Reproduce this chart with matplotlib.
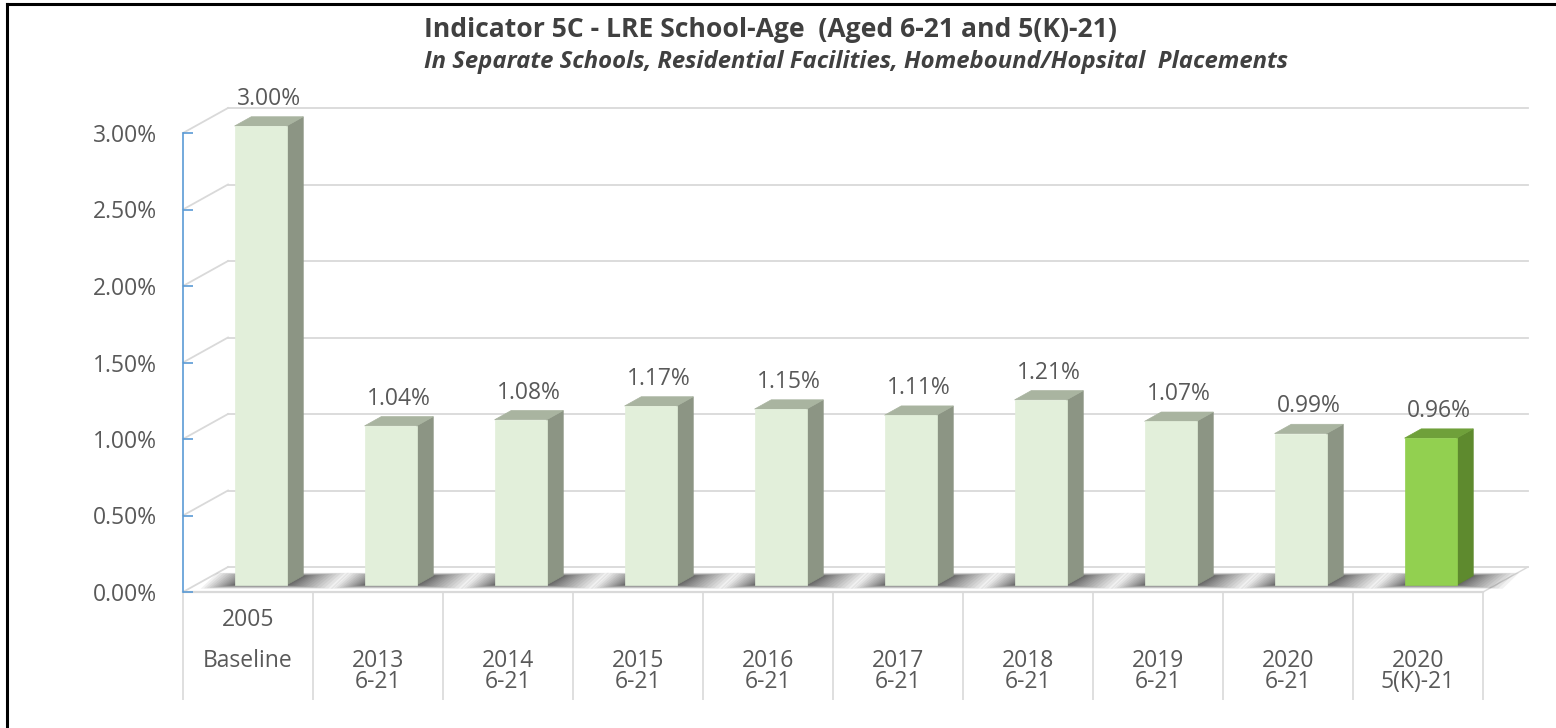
import matplotlib
matplotlib.use("Agg")
import matplotlib.pyplot as plt
from matplotlib.patches import Polygon
from matplotlib.lines import Line2D
from matplotlib.ticker import FuncFormatter, FixedLocator

# ---------------- data ----------------
categories_top = ["2005", "2013", "2014", "2015", "2016", "2017", "2018", "2019", "2020", "2020"]
categories_bottom = ["Baseline", "6-21", "6-21", "6-21", "6-21", "6-21", "6-21", "6-21", "6-21", "5(K)-21"]
values = [3.00, 1.04, 1.08, 1.17, 1.15, 1.11, 1.21, 1.07, 0.99, 0.96]
highlight = [False, False, False, False, False, False, False, False, False, True]
y_ticks = [0.0, 0.5, 1.0, 1.5, 2.0, 2.5, 3.0]
title = "Indicator 5C - LRE School-Age  (Aged 6-21 and 5(K)-21)"
subtitle = "In Separate Schools, Residential Facilities, Homebound/Hopsital  Placements"

# ---------------- style ----------------
plt.rcParams['font.family'] = ['Open Sans', 'DejaVu Sans']
TXT = "#595959"
GRID = "#D9D9D9"
AXIS_BLUE = "#5B9BD5"
FRONT, SIDE, TOP = "#E2EFDA", "#8C9584", "#A9B4A0"
HFRONT, HSIDE, HTOP = "#92D050", "#5E8A2E", "#6FA03A"
FS = 16.5

W_PX, H_PX = 1556, 728
fig = plt.figure(figsize=(W_PX / 100, H_PX / 100), dpi=100)
fig.patch.set_facecolor("white")

# axes = front plane of the 3-D box
ax = fig.add_axes([183 / W_PX, (H_PX - 592) / H_PX, 1300 / W_PX, 459 / H_PX])
n = len(values)
ax.set_xlim(-0.5, n - 0.5)
ax.set_ylim(0, y_ticks[-1])
ax.set_facecolor("none")

PX_X = 1300 / n            # pixels per category
PX_Y = 459 / y_ticks[-1]   # pixels per percent
DX = 45 / PX_X             # depth offset of back wall (data units)
DY = 25 / PX_Y
T0, T1 = 0.28, 0.65        # bar front / back depth fraction
BW = 52 / PX_X             # bar width

for s in ["top", "right", "bottom"]:
    ax.spines[s].set_visible(False)
ax.spines["left"].set_color(AXIS_BLUE)
ax.spines["left"].set_linewidth(1.2)
ax.spines["left"].set_zorder(6)

ax.yaxis.set_major_locator(FixedLocator(y_ticks))
ax.yaxis.set_major_formatter(FuncFormatter(lambda v, p: f"{v:.2f}%"))
ax.tick_params(axis="y", direction="in", length=7, width=1.2, color=AXIS_BLUE,
               labelsize=FS, labelcolor=TXT, pad=19)

# category separators as long x ticks
ax.xaxis.set_major_locator(FixedLocator([i - 0.5 for i in range(n + 1)]))
ax.tick_params(axis="x", direction="out", length=78, width=1.2, color=GRID,
               labelbottom=False)

# back wall grid and left wall diagonals
for v in y_ticks:
    ax.add_line(Line2D([-0.5 + DX, n - 0.5 + DX], [v + DY, v + DY], color=GRID,
                       lw=1.3, zorder=0, clip_on=False))
    ax.add_line(Line2D([-0.5, -0.5 + DX], [v, v + DY], color=GRID,
                       lw=1.3, zorder=0, clip_on=False))
# floor front edge and right edge
ax.add_line(Line2D([-0.5, n - 0.5], [0, 0], color=GRID, lw=1.6, zorder=0, clip_on=False))
ax.add_line(Line2D([n - 0.5, n - 0.5 + DX], [0, DY], color=GRID, lw=1.0, zorder=0, clip_on=False))

# bars
ddx, ddy = (T1 - T0) * DX, (T1 - T0) * DY
for i, (v, hl) in enumerate(zip(values, highlight)):
    x0 = i - BW / 2 + T0 * DX
    x1 = x0 + BW
    yb = T0 * DY
    yt = v + T0 * DY
    # soft floor shadow (stacked translucent layers)
    layers = 16
    for k in range(layers, 0, -1):
        f = (k / layers) ** 1.5
        xl = x0 - f * 34 / PX_X
        xr = x1 + ddx + f * 46 / PX_X
        yl = yb - 0.15 * f * DY
        yh = yb + ddy + 0.12 * f * DY
        ax.add_patch(Polygon([(xl, yl), (xr - ddx, yl), (xr, yh), (xl + ddx, yh)],
                             closed=True, facecolor="black", edgecolor="none",
                             alpha=0.055, zorder=1, clip_on=False))
    fc, sc, tc = (HFRONT, HSIDE, HTOP) if hl else (FRONT, SIDE, TOP)
    ax.add_patch(Polygon([(x1, yb), (x1 + ddx, yb + ddy), (x1 + ddx, yt + ddy), (x1, yt)],
                         closed=True, facecolor=sc, edgecolor=sc, lw=0.5, zorder=3, clip_on=False))
    ax.add_patch(Polygon([(x0, yt), (x1, yt), (x1 + ddx, yt + ddy), (x0 + ddx, yt + ddy)],
                         closed=True, facecolor=tc, edgecolor=tc, lw=0.5, zorder=3, clip_on=False))
    ax.add_patch(Polygon([(x0, yb), (x1, yb), (x1, yt), (x0, yt)],
                         closed=True, facecolor=fc, edgecolor=fc, lw=0.5, zorder=4, clip_on=False))
    # value label
    ax.annotate(f"{v:.2f}%", xy=((x0 + x1 + ddx) / 2, yt + ddy), xytext=(0, 18),
                textcoords="offset pixels", ha="center", va="center",
                fontsize=FS, color=TXT, annotation_clip=False)

# category labels (two lines each; the baseline label has a blank line between)
for i, (top, bot) in enumerate(zip(categories_top, categories_bottom)):
    y_top_px, y_bot_px = (620, 661) if i == 0 else (661, 682)
    ax.text(i, -(y_top_px - 592) / PX_Y, top, ha="center", va="center",
            fontsize=FS, color=TXT, clip_on=False)
    ax.text(i, -(y_bot_px - 592) / PX_Y, bot, ha="center", va="center",
            fontsize=FS, color=TXT, clip_on=False)

# titles
fig.text(424 / W_PX, 1 - 30 / H_PX, title, ha="left", va="center",
         fontsize=19.1, fontweight="bold", color="#404040")
fig.text(424 / W_PX, 1 - 62 / H_PX, subtitle, ha="left", va="center",
         fontsize=17.2, fontweight="bold", fontstyle="italic", color="#404040")

# outer frame (top and left edges)
fig.add_artist(Line2D([7 / W_PX, 1.0], [1 - 4 / H_PX, 1 - 4 / H_PX],
                      transform=fig.transFigure, color="black", lw=2.2))
fig.add_artist(Line2D([7 / W_PX, 7 / W_PX], [0.0, 1 - 4 / H_PX],
                      transform=fig.transFigure, color="black", lw=2.2))

fig.savefig("out.png", dpi=100)
